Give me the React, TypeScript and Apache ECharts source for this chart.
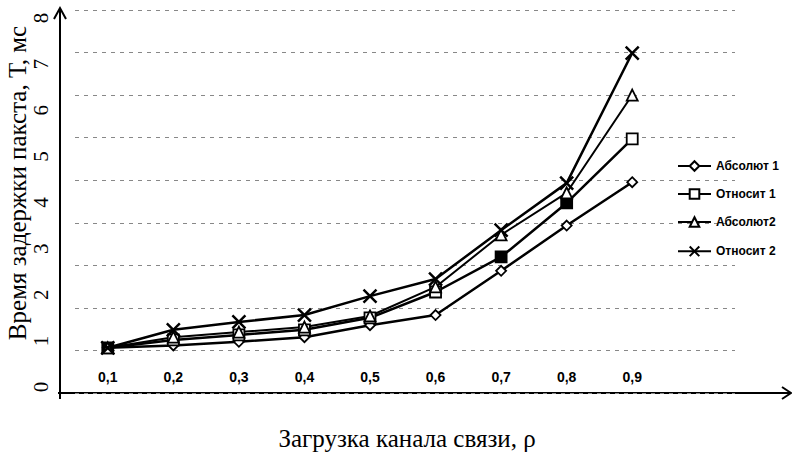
import React, { useEffect, useRef } from "react";
import * as echarts from "echarts";

const categories = ["0,1", "0,2", "0,3", "0,4", "0,5", "0,6", "0,7", "0,8", "0,9"];
const seriesNames = ["Абсолют 1", "Относит 1", "Абсолют2", "Относит 2"];
const absolut1 = [0.85, 0.9, 0.98, 1.08, 1.34, 1.56, 2.52, 3.5, 4.44];
const otnosit1 = [0.85, 1.02, 1.13, 1.24, 1.5, 2.06, 2.82, 3.99, 5.38];
const absolut2 = [0.85, 1.08, 1.19, 1.3, 1.54, 2.17, 3.3, 4.21, 6.33];
const otnosit2 = [0.85, 1.24, 1.41, 1.56, 1.97, 2.34, 3.4, 4.42, 7.24];
const filledSquareIdx = [0, 6, 7];
const yTitle = "Время задержки пакста, Т, мс";
const xTitle = "Загрузка канала связи, ρ";

const SERIF = "'Liberation Serif', 'Times New Roman', serif";
const SANS = "'Liberation Sans', Arial, sans-serif";

export default function App() {
  const ref = useRef<HTMLDivElement>(null);
  useEffect(() => {
    if (!ref.current) return;
    const chart = echarts.init(ref.current, undefined, { renderer: "svg" });
    const base = (name: string, data: any[], symbol: string, size: number, lw: number) => ({
      name,
      type: "line",
      xAxisIndex: 0,
      yAxisIndex: 0,
      data,
      symbol,
      symbolSize: size,
      showAllSymbol: true,
      lineStyle: { color: "#000", width: lw },
      itemStyle: { color: "#fff", borderColor: "#000", borderWidth: 1.8 },
      emphasis: { disabled: true },
    });
    const sqData = otnosit1.map((v, i) =>
      filledSquareIdx.includes(i) ? { value: v, itemStyle: { color: "#000" } } : v
    );
    chart.setOption({
      animation: false,
      backgroundColor: "#fff",
      grid: [
        { left: 75, right: 127, top: 18, bottom: 65 },
        { left: 75, right: 57, top: 10, bottom: 59 },
      ],
      xAxis: [
        {
          type: "category",
          gridIndex: 0,
          data: categories,
          boundaryGap: true,
          axisLine: { show: false },
          axisTick: { show: false },
          splitLine: { show: false },
          axisLabel: {
            margin: -17,
            fontSize: 14,
            fontWeight: "bold",
            fontFamily: SANS,
            color: "#000",
          },
        },
        { type: "value", gridIndex: 1, min: 0, max: 1, show: false },
      ],
      yAxis: [
        {
          type: "value",
          gridIndex: 0,
          min: 0,
          max: 8,
          interval: 1,
          axisLine: { show: false },
          axisTick: { show: false },
          splitLine: { show: false },
          axisLabel: {
            rotate: 90,
            margin: 24,
            fontSize: 21,
            fontFamily: SERIF,
            color: "#000",
          },
        },
        {
          type: "value",
          gridIndex: 1,
          min: 0,
          max: 9,
          interval: 1,
          axisLine: { show: false },
          axisTick: { show: false },
          axisLabel: { show: false },
          splitLine: { show: true, lineStyle: { color: "#888", width: 1, type: [4, 5] } },
        },
      ],
      legend: {
        orient: "vertical",
        left: 672,
        top: 155,
        itemWidth: 33,
        itemHeight: 12,
        itemGap: 16,
        data: seriesNames,
        textStyle: { fontSize: 12, fontWeight: "bold", fontFamily: SANS, color: "#000" },
      },
      series: [
        base(seriesNames[0], absolut1, "diamond", 10, 2.5),
        base(seriesNames[1], sqData, "rect", 11, 2.5),
        base(seriesNames[2], absolut2, "triangle", 11, 2),
        {
          ...base(seriesNames[3], otnosit2, "path://M0,0L10,10M10,0L0,10", 13, 2.5),
          itemStyle: { color: "none", borderColor: "#000", borderWidth: 2.5 },
        },
      ],
      graphic: [
        { type: "line", shape: { x1: 60, y1: 399, x2: 60, y2: 9 }, style: { stroke: "#000", lineWidth: 2 } },
        { type: "polyline", shape: { points: [[54, 19], [60, 8], [66, 19]] }, style: { stroke: "#000", lineWidth: 2, fill: "none" } },
        { type: "line", shape: { x1: 58, y1: 393, x2: 790, y2: 393 }, style: { stroke: "#000", lineWidth: 2 } },
        { type: "polyline", shape: { points: [[782, 387], [791, 393], [782, 399]] }, style: { stroke: "#000", lineWidth: 2, fill: "none" } },
        {
          type: "text",
          x: 17,
          y: 183,
          rotation: Math.PI / 2,
          style: {
            text: yTitle,
            fontSize: 25,
            fontFamily: SERIF,
            fill: "#000",
            align: "center",
            verticalAlign: "middle",
          },
        },
        {
          type: "text",
          x: 407,
          y: 438,
          style: {
            text: xTitle,
            fontSize: 25,
            fontFamily: SERIF,
            fill: "#000",
            align: "center",
            verticalAlign: "middle",
          },
        },
      ],
    });
    return () => chart.dispose();
  }, []);
  return (
    <div
      ref={ref}
      style={{ position: "fixed", left: 0, top: 0, width: 792, height: 452, background: "#fff" }}
    />
  );
}
